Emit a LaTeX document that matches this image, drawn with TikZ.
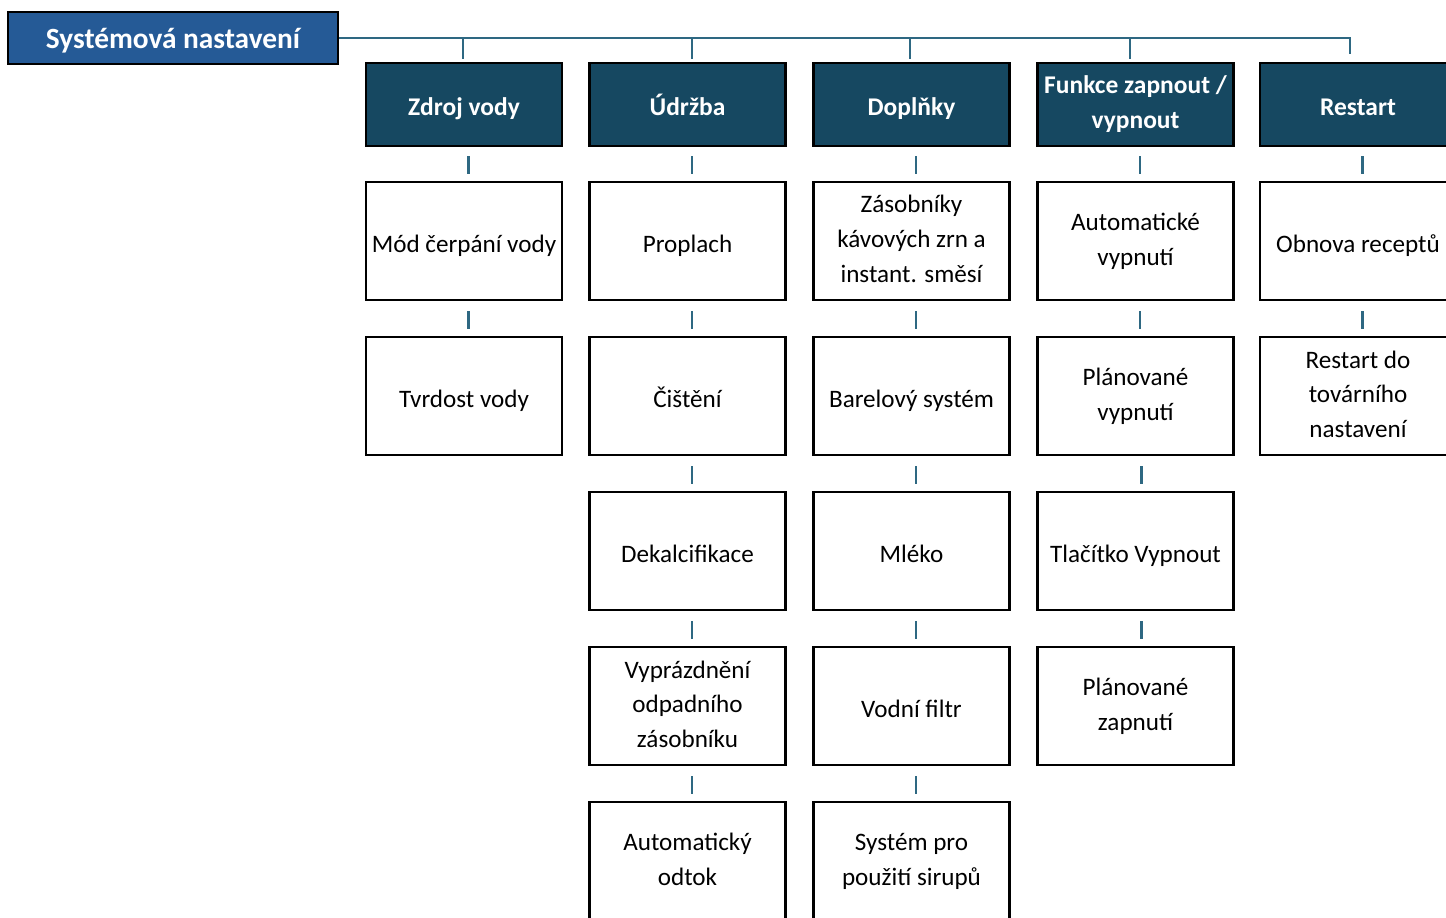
\documentclass[tikz,border=0pt]{standalone}
\usepackage{fontspec}
\setmainfont{Carlito}
\usetikzlibrary{positioning,calc}
\definecolor{topblue}{RGB}{37,90,150}
\definecolor{catblue}{RGB}{22,72,97}
\definecolor{linkblue}{RGB}{46,104,130}
\newcommand{\boxstrut}{\rule[-2pt]{0pt}{17pt}}

\begin{document}
\begin{tikzpicture}[x=0.02cm, y=-0.02cm,
    topbox/.style={draw=black, line width=1.5pt, fill=topblue, text=white, font=\fontsize{16.7}{18}\selectfont\bfseries, minimum width=6.6cm, minimum height=1.04cm, execute at begin node=\boxstrut, execute at end node=\boxstrut},
    catbox/.style={draw=black, line width=1.5pt, fill=catblue, text=white, align=center, font=\fontsize{14.5}{19.9}\selectfont\bfseries, minimum width=3.92cm, minimum height=1.66cm, inner sep=1pt, execute at begin node=\boxstrut, execute at end node=\boxstrut},
    itembox/.style={draw=black, line width=1.5pt, fill=white, align=center, font=\fontsize{14.3}{19.9}\selectfont, minimum width=3.92cm, minimum height=2.36cm, inner sep=1pt, execute at begin node=\boxstrut, execute at end node=\boxstrut},
    link/.style={draw=linkblue, line width=1.3pt}]
    \useasboundingbox (0,0) rectangle (1446,918);
    \clip (0,0) rectangle (1446,918);

    % top of the tree
    \node[topbox] (hdr) at (173,38) {Systémová nastavení};

    % categories
    \node[catbox] (zdroj) at (464,104.5) {Zdroj vody};
    \node[catbox] (udrzba) at (687.5,104.5) {Údržba};
    \node[catbox] (doplnky) at (911.5,104.5) {Doplňky};
    \node[catbox] (funkce) at (1135.5,104.5) {Funkce zapnout /\\vypnout};
    \node[catbox] (restart) at (1358,104.5) {Restart};

    % items
    \node[itembox] (zdroj1) at (464,241) {Mód čerpání vody};
    \node[itembox] (zdroj2) at (464,396) {Tvrdost vody};

    \node[itembox] (udrzba1) at (687.5,241) {Proplach};
    \node[itembox] (udrzba2) at (687.5,396) {Čištění};
    \node[itembox] (udrzba3) at (687.5,551) {Dekalcifikace};
    \node[itembox] (udrzba4) at (687.5,706) {Vyprázdnění\\odpadního\\zásobníku};
    \node[itembox] (udrzba5) at (687.5,861) {Automatický\\odtok};

    \node[itembox] (doplnky1) at (911.5,241) {Zásobníky\\kávových zrn a\\instant. směsí};
    \node[itembox] (doplnky2) at (911.5,396) {Barelový systém};
    \node[itembox] (doplnky3) at (911.5,551) {Mléko};
    \node[itembox] (doplnky4) at (911.5,706) {Vodní filtr};
    \node[itembox] (doplnky5) at (911.5,861) {Systém pro\\použití sirupů};

    \node[itembox] (funkce1) at (1135.5,241) {Automatické\\vypnutí};
    \node[itembox] (funkce2) at (1135.5,396) {Plánované\\vypnutí};
    \node[itembox] (funkce3) at (1135.5,551) {Tlačítko Vypnout};
    \node[itembox] (funkce4) at (1135.5,706) {Plánované\\zapnutí};

    \node[itembox] (restart1) at (1358,241) {Obnova receptů};
    \node[itembox] (restart2) at (1358,396) {Restart do\\továrního\\nastavení};

    % trunk and drops
    \coordinate (trunkend) at (1350,38);
    \path[link] (hdr.east) -- (trunkend) -- ([yshift=0.16cm]trunkend |- restart.north);
    \path[link] ([xshift=-0.02cm]hdr.east -| zdroj.north) -- ([xshift=-0.02cm,yshift=0.06cm]zdroj.north);
    \path[link] ([xshift=0.09cm]hdr.east -| udrzba.north) -- ([xshift=0.09cm,yshift=0.06cm]udrzba.north);
    \path[link] ([xshift=-0.03cm]hdr.east -| doplnky.north) -- ([xshift=-0.03cm,yshift=0.06cm]doplnky.north);
    \path[link] ([xshift=-0.11cm]hdr.east -| funkce.north) -- ([xshift=-0.11cm,yshift=0.06cm]funkce.north);

    % short links between boxes
    \path[link] ([xshift=0.09cm,yshift=-0.18cm]zdroj.south) -- ([xshift=0.09cm,yshift=0.14cm]zdroj1.north);
    \path[link] ([xshift=0.09cm,yshift=-0.2cm]zdroj1.south) -- ([xshift=0.09cm,yshift=0.14cm]zdroj2.north);

    \path[link] ([xshift=0.09cm,yshift=-0.18cm]udrzba.south) -- ([xshift=0.09cm,yshift=0.14cm]udrzba1.north);
    \path[link] ([xshift=0.09cm,yshift=-0.2cm]udrzba1.south) -- ([xshift=0.09cm,yshift=0.14cm]udrzba2.north);
    \path[link] ([xshift=0.09cm,yshift=-0.2cm]udrzba2.south) -- ([xshift=0.09cm,yshift=0.14cm]udrzba3.north);
    \path[link] ([xshift=0.09cm,yshift=-0.2cm]udrzba3.south) -- ([xshift=0.09cm,yshift=0.14cm]udrzba4.north);
    \path[link] ([xshift=0.09cm,yshift=-0.2cm]udrzba4.south) -- ([xshift=0.09cm,yshift=0.14cm]udrzba5.north);

    \path[link] ([xshift=0.09cm,yshift=-0.18cm]doplnky.south) -- ([xshift=0.09cm,yshift=0.14cm]doplnky1.north);
    \path[link] ([xshift=0.09cm,yshift=-0.2cm]doplnky1.south) -- ([xshift=0.09cm,yshift=0.14cm]doplnky2.north);
    \path[link] ([xshift=0.09cm,yshift=-0.2cm]doplnky2.south) -- ([xshift=0.09cm,yshift=0.14cm]doplnky3.north);
    \path[link] ([xshift=0.09cm,yshift=-0.2cm]doplnky3.south) -- ([xshift=0.09cm,yshift=0.14cm]doplnky4.north);
    \path[link] ([xshift=0.09cm,yshift=-0.2cm]doplnky4.south) -- ([xshift=0.09cm,yshift=0.14cm]doplnky5.north);

    \path[link] ([xshift=0.09cm,yshift=-0.18cm]funkce.south) -- ([xshift=0.09cm,yshift=0.14cm]funkce1.north);
    \path[link] ([xshift=0.09cm,yshift=-0.2cm]funkce1.south) -- ([xshift=0.09cm,yshift=0.14cm]funkce2.north);
    \path[link] ([xshift=0.12cm,yshift=-0.2cm]funkce2.south) -- ([xshift=0.12cm,yshift=0.14cm]funkce3.north);
    \path[link] ([xshift=0.12cm,yshift=-0.2cm]funkce3.south) -- ([xshift=0.12cm,yshift=0.14cm]funkce4.north);

    \path[link] ([xshift=0.09cm,yshift=-0.18cm]restart.south) -- ([xshift=0.09cm,yshift=0.14cm]restart1.north);
    \path[link] ([xshift=0.09cm,yshift=-0.2cm]restart1.south) -- ([xshift=0.09cm,yshift=0.14cm]restart2.north);
\end{tikzpicture}
\end{document}
